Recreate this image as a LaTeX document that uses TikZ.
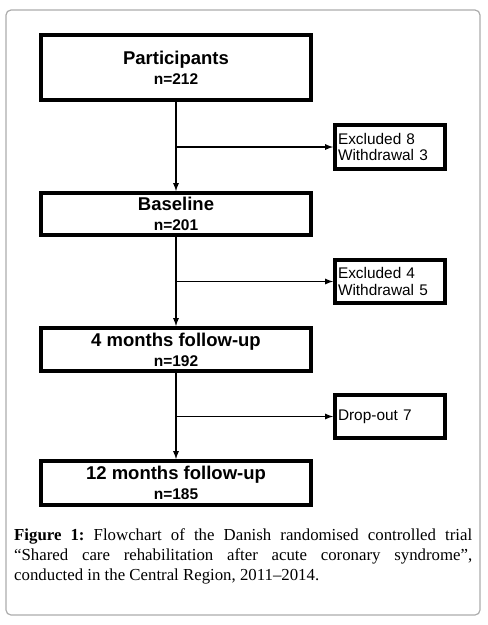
\documentclass[tikz,border=0pt]{standalone}
\usepackage{fontspec}
\setmainfont{Liberation Serif}
\setsansfont{Liberation Sans}
\usepackage{tikz}
\usetikzlibrary{calc,positioning,arrows}
\tikzset{
  mainbox/.style={draw, line width=4pt, minimum width=270pt, inner sep=0pt, align=center, font=\sffamily\bfseries\fontsize{15.5}{20}\selectfont},
  sidebox/.style={draw, line width=4pt, minimum width=110pt, inner sep=0pt, text width=104pt, align=left, font=\sffamily\fontsize{15.4}{16.5}\selectfont},
  flowline/.style={line width=1.7pt, -latex},
}
\newcommand{\boxhead}[2]{{\fontsize{18.5}{20}\selectfont #1}\\#2}
\begin{document}
\begin{tikzpicture}[x=1pt,y=-1pt]
			\useasboundingbox (0,0) rectangle (488,625);
			\draw[gray!65, line width=1.2pt, rounded corners=5pt] (6,10) rectangle (480,615);
			% main boxes
			\node[mainbox, minimum height=65pt] (part) at (176,67.5) {\boxhead{Participants}{n=212}};
			\node[mainbox, minimum height=42pt] (base) at (176,214) {\boxhead{Baseline}{n=201}};
			\node[mainbox, minimum height=43pt] (four) at (176,349.5) {\boxhead{4 months follow-up}{n=192}};
			\node[mainbox, minimum height=44pt] (twelve) at (176,483) {\boxhead{12 months follow-up}{n=185}};
			% side boxes
			\node[sidebox, minimum height=44pt] (exA) at (390,147) {Excluded 8\\Withdrawal 3};
			\node[sidebox, minimum height=43pt] (exB) at (390,281.5) {Excluded 4\\Withdrawal 5};
			\node[sidebox, minimum height=43pt] (drop) at (390,416.5) {Drop-out 7};
			% connectors
			\draw[flowline] (part) -- (base);
			\draw[flowline] (base) -- (four);
			\draw[flowline] (four) -- (twelve);
			\draw[flowline] (part.south |- exA) -- (exA);
			\draw[flowline] (base.south |- exB) -- (exB);
			\draw[flowline] (four.south |- drop) -- (drop);
			% caption
			\node[anchor=north west, inner sep=0pt, text width=458pt, align=justify, font=\fontsize{16.8}{20}\selectfont\frenchspacing] (cap) at (14,528)
			{\textbf{Figure 1:} Flowchart of the Danish randomised controlled trial\linebreak
			“Shared care rehabilitation after acute coronary syndrome”,\linebreak
			conducted in the Central Region, 2011–2014.};
		\end{tikzpicture}
\end{document}
